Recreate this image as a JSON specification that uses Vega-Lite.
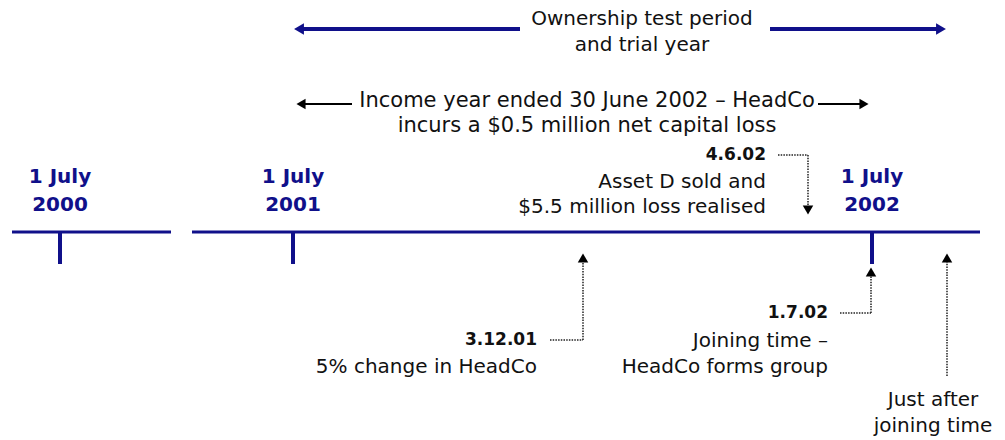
{
  "$schema": "https://vega.github.io/schema/vega-lite/v6.json",
  "width": 1005,
  "height": 440,
  "autosize": {"type": "fit", "contains": "padding"},
  "padding": 0,
  "background": "white",
  "config": {"view": {"stroke": null}},
  "datasets": {
    "segs": [
      {"k": "navyTop", "x": 300, "y": 29, "x2": 520, "y2": 29},
      {"k": "navyTop", "x": 770, "y": 29, "x2": 940, "y2": 29},
      {"k": "navyLine", "x": 12, "y": 232, "x2": 171, "y2": 232},
      {"k": "navyLine", "x": 192, "y": 232, "x2": 980, "y2": 232},
      {"k": "tick", "x": 60, "y": 232, "x2": 60, "y2": 264},
      {"k": "tick", "x": 293, "y": 232, "x2": 293, "y2": 264},
      {"k": "tick", "x": 872, "y": 232, "x2": 872, "y2": 264},
      {"k": "black", "x": 300, "y": 104, "x2": 352, "y2": 104},
      {"k": "black", "x": 818, "y": 104, "x2": 864, "y2": 104},
      {"k": "dot", "x": 778, "y": 155, "x2": 808, "y2": 155},
      {"k": "dot", "x": 808, "y": 155, "x2": 808, "y2": 206},
      {"k": "dot", "x": 550, "y": 340, "x2": 583, "y2": 340},
      {"k": "dot", "x": 583, "y": 340, "x2": 583, "y2": 262},
      {"k": "dot", "x": 840, "y": 313, "x2": 871, "y2": 313},
      {"k": "dot", "x": 871, "y": 313, "x2": 871, "y2": 276},
      {"k": "dot", "x": 947, "y": 376, "x2": 947, "y2": 262}
    ],
    "heads": [
      {"k": "navy", "x": 299, "y": 29, "s": "triangle-left"},
      {"k": "navy", "x": 941, "y": 29, "s": "triangle-right"},
      {"k": "black", "x": 301, "y": 104, "s": "triangle-left"},
      {"k": "black", "x": 864, "y": 104, "s": "triangle-right"},
      {"k": "black", "x": 808, "y": 210, "s": "triangle-down"},
      {"k": "black", "x": 583, "y": 258, "s": "triangle-up"},
      {"k": "black", "x": 871, "y": 272, "s": "triangle-up"},
      {"k": "black", "x": 947, "y": 258, "s": "triangle-up"}
    ],
    "labels": [
      {"k": "center", "x": 642, "y": 19, "t": "Ownership test period"},
      {"k": "center", "x": 642, "y": 45, "t": "and trial year"},
      {"k": "income", "x": 587, "y": 101, "t": "Income year ended 30 June 2002 – HeadCo"},
      {"k": "income", "x": 587, "y": 126, "t": "incurs a $0.5 million net capital loss"},
      {"k": "right", "x": 766, "y": 182, "t": "Asset D sold and"},
      {"k": "right", "x": 766, "y": 207, "t": "$5.5 million loss realised"},
      {"k": "right", "x": 537, "y": 367, "t": "5% change in HeadCo"},
      {"k": "right", "x": 828, "y": 341, "t": "Joining time –"},
      {"k": "right", "x": 828, "y": 367, "t": "HeadCo forms group"},
      {"k": "center", "x": 933, "y": 400, "t": "Just after"},
      {"k": "center", "x": 933, "y": 426, "t": "joining time"},
      {"k": "boldRight", "x": 766, "y": 155, "t": "4.6.02"},
      {"k": "boldRight", "x": 537, "y": 340, "t": "3.12.01"},
      {"k": "boldRight", "x": 828, "y": 313, "t": "1.7.02"},
      {"k": "date", "x": 60, "y": 177, "t": "1 July"},
      {"k": "date", "x": 60, "y": 205, "t": "2000"},
      {"k": "date", "x": 293, "y": 177, "t": "1 July"},
      {"k": "date", "x": 293, "y": 205, "t": "2001"},
      {"k": "date", "x": 872, "y": 177, "t": "1 July"},
      {"k": "date", "x": 872, "y": 205, "t": "2002"}
    ]
  },
  "encoding": {
    "x": {"field": "x", "type": "quantitative", "scale": {"domain": [0, 1005]}, "axis": null},
    "y": {"field": "y", "type": "quantitative", "scale": {"domain": [0, 440], "reverse": true}, "axis": null}
  },
  "layer": [
    {
      "data": {"name": "segs"},
      "transform": [{"filter": "datum.k == 'navyTop'"}],
      "mark": {"type": "rule", "color": "#10108a", "strokeWidth": 4},
      "encoding": {"x2": {"field": "x2"}, "y2": {"field": "y2"}}
    },
    {
      "data": {"name": "segs"},
      "transform": [{"filter": "datum.k == 'navyLine'"}],
      "mark": {"type": "rule", "color": "#10108a", "strokeWidth": 3},
      "encoding": {"x2": {"field": "x2"}, "y2": {"field": "y2"}}
    },
    {
      "data": {"name": "segs"},
      "transform": [{"filter": "datum.k == 'tick'"}],
      "mark": {"type": "rule", "color": "#10108a", "strokeWidth": 4},
      "encoding": {"x2": {"field": "x2"}, "y2": {"field": "y2"}}
    },
    {
      "data": {"name": "segs"},
      "transform": [{"filter": "datum.k == 'black'"}],
      "mark": {"type": "rule", "color": "#000000", "strokeWidth": 2},
      "encoding": {"x2": {"field": "x2"}, "y2": {"field": "y2"}}
    },
    {
      "data": {"name": "segs"},
      "transform": [{"filter": "datum.k == 'dot'"}],
      "mark": {"type": "rule", "color": "#222222", "strokeWidth": 1.5, "strokeDash": [1.5, 1.2]},
      "encoding": {"x2": {"field": "x2"}, "y2": {"field": "y2"}}
    },
    {
      "data": {"name": "heads"},
      "transform": [{"filter": "datum.k == 'navy'"}],
      "mark": {"type": "point", "filled": true, "color": "#10108a", "opacity": 1, "size": 130},
      "encoding": {"shape": {"field": "s", "type": "nominal", "scale": null}}
    },
    {
      "data": {"name": "heads"},
      "transform": [{"filter": "datum.k == 'black'"}],
      "mark": {"type": "point", "filled": true, "color": "#000000", "opacity": 1, "size": 110},
      "encoding": {"shape": {"field": "s", "type": "nominal", "scale": null}}
    },
    {
      "data": {"name": "labels"},
      "transform": [{"filter": "datum.k == 'center'"}],
      "mark": {"type": "text", "align": "center", "baseline": "middle", "font": "DejaVu Sans", "fontSize": 20, "color": "#111111"},
      "encoding": {"text": {"field": "t"}}
    },
    {
      "data": {"name": "labels"},
      "transform": [{"filter": "datum.k == 'income'"}],
      "mark": {"type": "text", "align": "center", "baseline": "middle", "font": "DejaVu Sans", "fontSize": 21, "color": "#111111"},
      "encoding": {"text": {"field": "t"}}
    },
    {
      "data": {"name": "labels"},
      "transform": [{"filter": "datum.k == 'right'"}],
      "mark": {"type": "text", "align": "right", "baseline": "middle", "font": "DejaVu Sans", "fontSize": 20, "color": "#111111"},
      "encoding": {"text": {"field": "t"}}
    },
    {
      "data": {"name": "labels"},
      "transform": [{"filter": "datum.k == 'boldRight'"}],
      "mark": {"type": "text", "align": "right", "baseline": "middle", "font": "DejaVu Sans", "fontSize": 17, "fontWeight": "bold", "color": "#111111"},
      "encoding": {"text": {"field": "t"}}
    },
    {
      "data": {"name": "labels"},
      "transform": [{"filter": "datum.k == 'date'"}],
      "mark": {"type": "text", "align": "center", "baseline": "middle", "font": "DejaVu Sans", "fontSize": 20, "fontWeight": "bold", "color": "#10108a"},
      "encoding": {"text": {"field": "t"}}
    }
  ]
}
